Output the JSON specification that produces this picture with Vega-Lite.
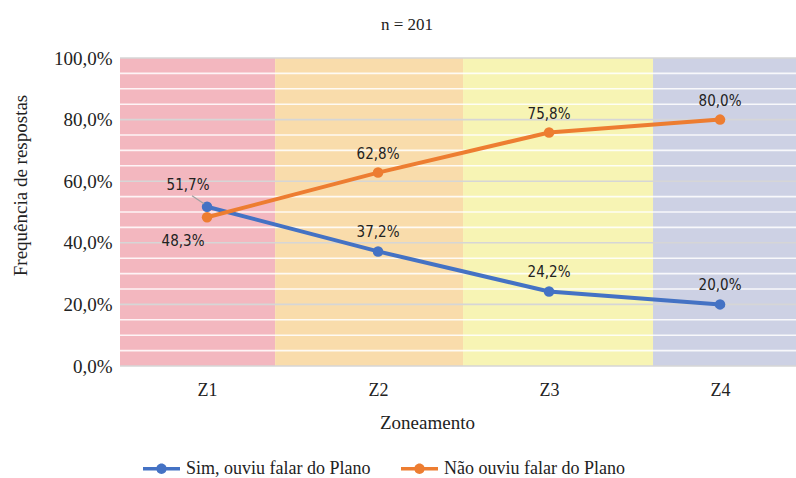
{
  "$schema": "https://vega.github.io/schema/vega-lite/v6.json",
  "width": 676,
  "height": 308,
  "autosize": {"type": "none"},
  "padding": {"left": 120, "top": 58, "right": 0, "bottom": 112},
  "config": {
    "locale": {"number": {"decimal": ",", "thousands": ".", "grouping": [3], "currency": ["R$", ""]}},
    "view": {"stroke": null},
    "font": "Liberation Serif",
    "legend": {"labelFont": "Liberation Serif", "labelFontSize": 18, "labelColor": "#222222"}
  },
  "title": {
    "text": "n = 201",
    "font": "Liberation Serif",
    "fontSize": 17,
    "fontWeight": "normal",
    "color": "#222222",
    "anchor": "middle",
    "dx": -51,
    "dy": 11,
    "baseline": "alphabetic",
    "offset": 13
  },
  "datasets": {
    "zonas": [
      {"zona": "Z1", "inicio": 0.491, "fim": 1.398},
      {"zona": "Z2", "inicio": 1.398, "fim": 2.497},
      {"zona": "Z3", "inicio": 2.497, "fim": 3.608},
      {"zona": "Z4", "inicio": 3.608, "fim": 4.444}
    ],
    "grade": [
      {"v": 0.0, "tipo": "maior"}, {"v": 0.05, "tipo": "menor"}, {"v": 0.10, "tipo": "menor"}, {"v": 0.15, "tipo": "menor"},
      {"v": 0.20, "tipo": "maior"}, {"v": 0.25, "tipo": "menor"}, {"v": 0.30, "tipo": "menor"}, {"v": 0.35, "tipo": "menor"},
      {"v": 0.40, "tipo": "maior"}, {"v": 0.45, "tipo": "menor"}, {"v": 0.50, "tipo": "menor"}, {"v": 0.55, "tipo": "menor"},
      {"v": 0.60, "tipo": "maior"}, {"v": 0.65, "tipo": "menor"}, {"v": 0.70, "tipo": "menor"}, {"v": 0.75, "tipo": "menor"},
      {"v": 0.80, "tipo": "maior"}, {"v": 0.85, "tipo": "menor"}, {"v": 0.90, "tipo": "menor"}, {"v": 0.95, "tipo": "menor"},
      {"v": 1.0, "tipo": "maior"}
    ],
    "respostas": [
      {"zona": "Z1", "serie": "Sim, ouviu falar do Plano", "valor": 0.517},
      {"zona": "Z2", "serie": "Sim, ouviu falar do Plano", "valor": 0.372},
      {"zona": "Z3", "serie": "Sim, ouviu falar do Plano", "valor": 0.242},
      {"zona": "Z4", "serie": "Sim, ouviu falar do Plano", "valor": 0.200},
      {"zona": "Z1", "serie": "Não ouviu falar do Plano", "valor": 0.483},
      {"zona": "Z2", "serie": "Não ouviu falar do Plano", "valor": 0.628},
      {"zona": "Z3", "serie": "Não ouviu falar do Plano", "valor": 0.758},
      {"zona": "Z4", "serie": "Não ouviu falar do Plano", "valor": 0.800}
    ]
  },
  "resolve": {"scale": {"x": "independent"}, "axis": {"x": "independent"}},
  "layer": [
    {
      "data": {"name": "zonas"},
      "mark": {"type": "rect"},
      "encoding": {
        "x": {"field": "inicio", "type": "quantitative", "scale": {"domain": [0.491, 4.444], "nice": false, "zero": false}, "axis": null},
        "x2": {"field": "fim"},
        "fill": {"field": "zona", "type": "nominal", "scale": {"domain": ["Z1", "Z2", "Z3", "Z4"], "range": ["#f3b7bf", "#f9dcab", "#f7f4b4", "#cdd1e4"]}, "legend": null}
      }
    },
    {
      "data": {"name": "grade"},
      "transform": [{"filter": "datum.tipo == 'menor'"}],
      "mark": {"type": "rule", "color": "#ffffff", "strokeWidth": 1.6, "opacity": 0.85},
      "encoding": {
        "y": {"field": "v", "type": "quantitative", "title": "Frequência de respostas", "scale": {"domain": [0, 1]}}
      }
    },
    {
      "data": {"name": "grade"},
      "transform": [{"filter": "datum.tipo == 'maior'"}],
      "mark": {"type": "rule", "color": "#d6d6d6", "strokeWidth": 1.6},
      "encoding": {
        "y": {"field": "v", "type": "quantitative", "title": "Frequência de respostas"}
      }
    },
    {
      "data": {"name": "respostas"},
      "layer": [
        {
          "mark": {"type": "line", "strokeWidth": 4, "point": {"size": 110, "filled": true}},
          "encoding": {
            "x": {
              "field": "zona", "type": "ordinal",
              "scale": {"type": "point", "padding": 0.4766, "align": 0.534},
              "axis": {
                "title": "Zoneamento", "titleFont": "Liberation Serif", "titleFontSize": 19, "titleFontWeight": "normal", "titleColor": "#222222",
                "titleX": 307, "titleY": 56, "titleAlign": "center", "titleBaseline": "middle",
                "labelFont": "Liberation Serif", "labelFontSize": 18, "labelColor": "#222222", "labelAngle": 0,
                "labelPadding": 15, "ticks": false, "domain": false, "grid": false
              }
            },
            "y": {
              "field": "valor", "type": "quantitative",
              "title": "Frequência de respostas",
              "scale": {"domain": [0, 1]},
              "axis": {
                "title": "Frequência de respostas", "titleFont": "Liberation Serif", "titleFontSize": 19, "titleFontWeight": "normal", "titleColor": "#222222",
                "titleX": -100, "titleY": 127, "titleAlign": "center", "titleBaseline": "middle", "titleAngle": -90,
                "values": [0, 0.2, 0.4, 0.6, 0.8, 1], "format": ".1%",
                "labelFont": "Liberation Serif", "labelFontSize": 19, "labelColor": "#222222", "labelPadding": 8,
                "ticks": false, "domain": false, "grid": false
              }
            },
            "color": {
              "field": "serie", "type": "nominal",
              "scale": {"domain": ["Sim, ouviu falar do Plano", "Não ouviu falar do Plano"], "range": ["#4472c4", "#ed7d31"]},
              "legend": {
                "title": null, "orient": "none", "direction": "horizontal", "legendX": 23, "legendY": 392,
                "labelFont": "Liberation Serif", "labelFontSize": 18, "labelColor": "#222222", "labelOffset": 6, "labelLimit": 0,
                "columnPadding": 30,
                "encode": {
                  "labels": {"update": {"font": {"value": "Liberation Serif"}, "fontSize": {"value": 18}, "fill": {"value": "#222222"}}},
                  "symbols": {"update": {
                    "shape": {"value": "M-1,-0.1H1V0.1H-1Z M0.28,0A0.28,0.28 0 1,1 -0.28,0A0.28,0.28 0 1,1 0.28,0Z"},
                    "size": {"value": 1369},
                    "fill": {"scale": "color", "field": "value"},
                    "stroke": {"value": "transparent"},
                    "strokeWidth": {"value": 0},
                    "opacity": {"value": 1}
                  }}
                }
              }
            }
          }
        },
        {
          "transform": [{"filter": "datum.zona != 'Z1'"}],
          "mark": {"type": "text", "font": "Liberation Sans Narrow, DejaVu Sans Condensed, sans-serif", "fontSize": 15, "color": "#222222", "dy": -19},
          "encoding": {
            "x": {"field": "zona", "type": "ordinal"},
            "y": {"field": "valor", "type": "quantitative"},
            "text": {"field": "valor", "type": "quantitative", "format": ".1%"}
          }
        },
        {
          "transform": [{"filter": "datum.zona == 'Z1' && datum.serie == 'Sim, ouviu falar do Plano'"}],
          "mark": {"type": "text", "font": "Liberation Sans Narrow, DejaVu Sans Condensed, sans-serif", "fontSize": 15, "color": "#222222", "dx": -19, "dy": -22},
          "encoding": {
            "x": {"field": "zona", "type": "ordinal"},
            "y": {"field": "valor", "type": "quantitative"},
            "text": {"field": "valor", "type": "quantitative", "format": ".1%"}
          }
        },
        {
          "transform": [{"filter": "datum.zona == 'Z1' && datum.serie == 'Sim, ouviu falar do Plano'"}],
          "mark": {"type": "rule", "color": "#a0a0a0", "strokeWidth": 1.2, "xOffset": -15, "yOffset": -11, "x2Offset": -3, "y2Offset": -3},
          "encoding": {
            "x": {"field": "zona", "type": "ordinal"},
            "y": {"field": "valor", "type": "quantitative"},
            "x2": {"field": "zona"},
            "y2": {"field": "valor"}
          }
        },
        {
          "transform": [{"filter": "datum.zona == 'Z1' && datum.serie == 'Não ouviu falar do Plano'"}],
          "mark": {"type": "text", "font": "Liberation Sans Narrow, DejaVu Sans Condensed, sans-serif", "fontSize": 15, "color": "#222222", "dx": -24, "dy": 24},
          "encoding": {
            "x": {"field": "zona", "type": "ordinal"},
            "y": {"field": "valor", "type": "quantitative"},
            "text": {"field": "valor", "type": "quantitative", "format": ".1%"}
          }
        }
      ]
    }
  ]
}
